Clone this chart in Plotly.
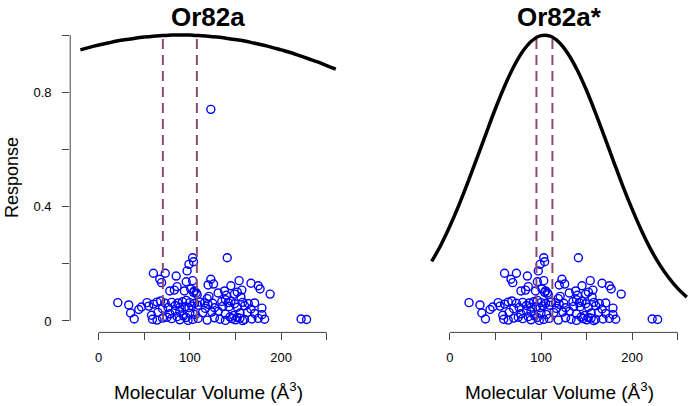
import plotly.graph_objects as go

# ---------------- data ----------------
volume = [103,104,99,97,141,60,73,67,69,85,96,103,120,123,126,154,145,167,175,177,188,86,78,94,105,107,131,138,152,157,83,101,104,108,149,121,119,140,156,
          21,53,64,73,80,87,92,100,105,111,116,125,135,142,149,158,164,171,60,68,96,120,139,145,
          33,47,55,76,84,95,109,127,136,152,160,179,44,70,89,102,117,143,167,99,
          35,65,78,89,100,114,124,139,155,171,179,58,84,93,106,131,148,163,
          39,59,64,70,80,89,96,103,109,119,127,133,139,146,150,155,160,168,175,182,222,228,75,86,98,144,152,158,
          123]
response = [0.221,0.207,0.198,0.175,0.221,0.167,0.167,0.146,0.134,0.157,0.137,0.141,0.126,0.146,0.129,0.141,0.123,0.132,0.123,0.112,0.094,0.120,0.105,0.105,0.105,0.098,0.098,0.105,0.101,0.108,0.108,0.112,0.100,0.092,0.094,0.086,0.078,0.090,0.084,
            0.064,0.064,0.066,0.062,0.065,0.063,0.067,0.064,0.061,0.066,0.063,0.062,0.068,0.064,0.060,0.065,0.061,0.063,0.059,0.070,0.072,0.058,0.074,0.069,
            0.056,0.049,0.052,0.047,0.054,0.050,0.055,0.046,0.051,0.048,0.053,0.045,0.040,0.043,0.048,0.052,0.044,0.050,0.042,0.046,
            0.028,0.030,0.025,0.033,0.027,0.029,0.031,0.024,0.028,0.026,0.022,0.020,0.035,0.018,0.022,0.034,0.019,0.030,
            0.007,0.006,0.003,0.010,0.008,0.004,0.012,0.005,0.009,0.003,0.011,0.006,0.002,0.008,0.004,0.010,0.005,0.007,0.009,0.006,0.007,0.005,0.013,0.015,0.002,0.014,0.012,0.001,
            0.740]

curve_x = [-20,-10,0,10,20,30,40,50,60,70,80,90,100,110,120,130,140,150,160,170,180,190,200,210,220,230,240,250,260]
curve_left = [0.948,0.957,0.965,0.972,0.979,0.984,0.989,0.993,0.996,0.998,1.000,1.000,1.000,0.998,0.996,0.993,0.989,0.984,0.979,0.972,0.965,0.957,0.948,0.939,0.928,0.917,0.906,0.893,0.881]
curve_right = [0.208,0.265,0.332,0.406,0.487,0.572,0.658,0.743,0.821,0.889,0.943,0.980,0.998,0.996,0.974,0.933,0.876,0.806,0.726,0.641,0.555,0.470,0.391,0.318,0.253,0.198,0.152,0.114,0.0835]

bounds_left = [70.4, 107.7]
bounds_right = [95.0, 112.5]

titles = ["Or82a", "Or82a*"]
x_tickvals = [0, 50, 100, 150, 200, 250]
x_ticktext = ["0", "", "100", "", "200", ""]
y_tickvals = [0, 0.2, 0.4, 0.6, 0.8, 1.0]
y_ticktext = ["0", "", "0.4", "", "0.8", ""]

# right panel excludes the outlier
vol_right = [v for v, r in zip(volume, response) if r < 0.5]
resp_right = [r for r in response if r < 0.5]

FONT = "Liberation Sans, Arial, Helvetica, sans-serif"
BLUE = "#0000FF"
DASH = "#8B4A74"
AX = "#444444"

fig = go.Figure()

def add_panel(xa, ya, vx, vy, cy, bnds):
    fig.add_trace(go.Scatter(x=vx, y=vy, mode="markers", xaxis=xa, yaxis=ya,
                             marker=dict(symbol="circle-open", size=8, color=BLUE,
                                         line=dict(width=1.4, color=BLUE)),
                             showlegend=False, hoverinfo="skip"))
    for b in bnds:
        fig.add_trace(go.Scatter(x=[b, b], y=[0, 1], mode="lines", xaxis=xa, yaxis=ya,
                                 line=dict(color=DASH, width=2, dash="10px,6px"),
                                 showlegend=False, hoverinfo="skip"))
    fig.add_trace(go.Scatter(x=curve_x, y=cy, mode="lines", xaxis=xa, yaxis=ya,
                             line=dict(color="black", width=3.5, shape="spline"),
                             showlegend=False, hoverinfo="skip"))

add_panel("x", "y", volume, response, curve_left, bounds_left)
add_panel("x2", "y2", vol_right, resp_right, curve_right, bounds_right)

ydom = [0.1813, 0.9419]
xr = [-31.2, 271.2]
yr = [-0.04, 1.04]

common_x = dict(range=xr, showgrid=False, zeroline=False, showline=False,
                ticks="outside", ticklen=7, tickwidth=1, tickcolor=AX,
                tickvals=x_tickvals, ticktext=x_ticktext,
                tickfont=dict(family=FONT, size=13, color="black"),
                ticklabelstandoff=6, fixedrange=True)

fig.update_layout(
    width=697, height=406,
    margin=dict(l=0, r=0, t=0, b=0),
    paper_bgcolor="white", plot_bgcolor="white",
    xaxis=dict(domain=[0.1007, 0.4964], anchor="y", **common_x),
    xaxis2=dict(domain=[0.6047, 1.0], anchor="y2", **common_x),
    yaxis=dict(domain=ydom, range=yr, anchor="x", showgrid=False, zeroline=False,
               showline=False, ticks="outside", ticklen=7, tickwidth=1, tickcolor=AX,
               tickvals=y_tickvals, ticktext=y_ticktext,
               tickfont=dict(family=FONT, size=13, color="black"),
               ticklabelstandoff=8, fixedrange=True),
    yaxis2=dict(domain=ydom, range=yr, anchor="x2", showgrid=False, zeroline=False,
                showline=False, showticklabels=False, ticks="", fixedrange=True),
)

shapes = []
for xa, ya in [("x", "y"), ("x2", "y2")]:
    shapes.append(dict(type="line", xref=xa, yref=ya + " domain", x0=0, x1=250, y0=0, y1=0,
                       line=dict(color=AX, width=1)))
shapes.append(dict(type="line", xref="x domain", yref="y", x0=0, x1=0, y0=0, y1=1,
                   line=dict(color=AX, width=1)))
fig.update_layout(shapes=shapes)

ann = []
for xa, t in [("x", titles[0]), ("x2", titles[1])]:
    ann.append(dict(text="<b>" + t + "</b>", xref=xa + " domain", yref="paper", x=0.5,
                    y=(406 - 17) / 406, xanchor="center", yanchor="middle", showarrow=False,
                    font=dict(family=FONT, size=26, color="black")))
    ann.append(dict(text="Molecular Volume (Å<sup>3</sup>)", xref=xa + " domain", yref="paper",
                    x=0.5, y=(406 - 391) / 406, xanchor="center", yanchor="middle",
                    showarrow=False, font=dict(family=FONT, size=19, color="black")))
ann.append(dict(text="Response", xref="paper", yref="paper", x=12 / 697, y=(406 - 178) / 406,
                xanchor="center", yanchor="middle", textangle=-90, showarrow=False,
                font=dict(family=FONT, size=18, color="black")))
fig.update_layout(annotations=ann)

fig.write_html("out.html",
               config={"displayModeBar": False, "staticPlot": True},
               post_script="document.body.style.margin='0';document.body.style.padding='0';"
                           "document.documentElement.style.overflow='hidden';")
